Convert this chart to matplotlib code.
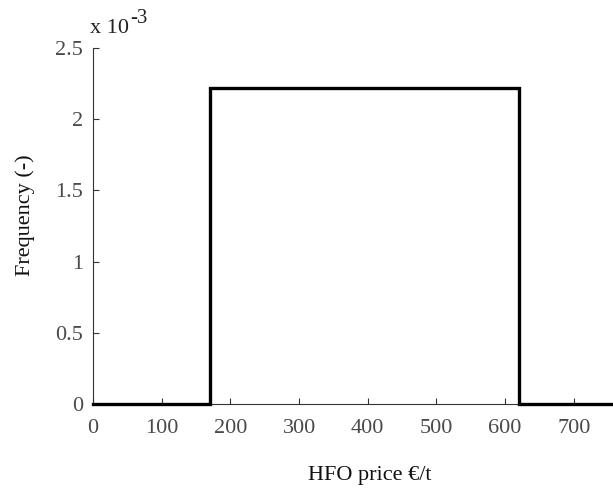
import matplotlib
matplotlib.use("Agg")
import matplotlib.pyplot as plt

# Uniform price distribution drawn as a step outline
price = [0, 170, 170, 620, 620, 760]
freq = [0, 0, 2.222e-3, 2.222e-3, 0, 0]

xticks = [0, 100, 200, 300, 400, 500, 600, 700]
yticks = [0, 0.5e-3, 1.0e-3, 1.5e-3, 2.0e-3, 2.5e-3]
yticklabels = ["0", "0.5", "1", "1.5", "2", "2.5"]

plt.rcParams["font.family"] = ["Liberation Serif", "DejaVu Serif"]

fig = plt.figure(figsize=(6.13, 4.90), dpi=100)
# axes box: left spine at x=93 px, baseline at y=404 px, top at y=48 px
ax = fig.add_axes([93 / 613, (490 - 404) / 490, 1 - 93 / 613, (404 - 48) / 490])

ax.plot(price, freq, color="black", lw=2.4, solid_joinstyle="miter", clip_on=False, zorder=3)

ax.set_xlim(0, 757)
ax.set_ylim(0, 2.5e-3)
ax.set_xticks(xticks)
ax.set_xticklabels([str(t) for t in xticks])
ax.set_yticks(yticks)
ax.set_yticklabels(yticklabels)

for s in ("top", "right"):
    ax.spines[s].set_visible(False)
for s in ("left", "bottom"):
    ax.spines[s].set_linewidth(0.8)
    ax.spines[s].set_color("#333333")

ax.tick_params(direction="in", length=4, width=0.8, labelsize=16, colors="#333333",
               labelcolor="#4a4a4a")
ax.tick_params(axis="x", pad=11)
ax.tick_params(axis="y", pad=7)

ax.set_xlabel("HFO price €/t", fontsize=16, labelpad=20, color="#111111")
ax.set_ylabel("Frequency (-)", fontsize=16, labelpad=15, color="#111111")
ax.xaxis.label.set_x(0.533)
ax.yaxis.label.set_y(0.53)

# axis multiplier written as "x 10" with a raised exponent
fig.text(90 / 613, 1 - 33 / 490, "x 10", fontsize=16, color="#222222",
         ha="left", va="baseline")
fig.text(130 / 613, 1 - 23 / 490, "-3", fontsize=15, color="#222222",
         ha="left", va="baseline")

fig.savefig("out.png", dpi=100)
